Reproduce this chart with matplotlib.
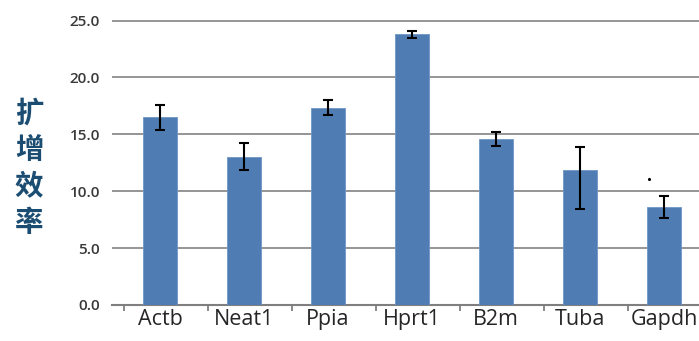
import numpy as np
import matplotlib
matplotlib.use("Agg")
import matplotlib.pyplot as plt

plt.rcParams['font.family'] = ['Open Sans', 'Noto Sans CJK SC', 'DejaVu Sans']

genes = ["Actb", "Neat1", "Ppia", "Hprt1", "B2m", "Tuba", "Gapdh"]
efficiency = [16.5, 13.0, 17.3, 23.8, 14.6, 11.9, 8.6]
err_upper = [1.1, 1.2, 0.7, 0.3, 0.6, 2.0, 1.0]
err_lower = [1.1, 1.1, 0.6, 0.3, 0.6, 3.45, 0.95]
y_ticks = [0, 5, 10, 15, 20, 25]

# stray point drawn near the Gapdh bar
dot_x = [5.82]
dot_y = [11.1]

bar_color = "#4f7db3"
grid_color = "#8c8c8c"
label_color = "#1b4d72"

fig = plt.figure(figsize=(6.99, 3.41), dpi=100)
ax = fig.add_axes((112 / 699, 36 / 341, 587 / 699, 285 / 341))

x = np.arange(len(genes))
ax.bar(x, efficiency, width=0.4, color=bar_color, edgecolor="#6f96c4",
       linewidth=0.6, zorder=3)
ax.errorbar(x, efficiency, yerr=[err_lower, err_upper], fmt="none",
            ecolor="black", elinewidth=1.5, capsize=3.6, capthick=1.5,
            zorder=4)
ax.scatter(dot_x, dot_y, s=1.5, color="black", zorder=4)

ax.set_xlim(-0.571, 6.417)
ax.set_ylim(0, 25.05)
ax.set_yticks(y_ticks)
ax.set_yticklabels([f"{v:.1f}" for v in y_ticks])
ax.yaxis.grid(True, color=grid_color, linewidth=1.3, zorder=0)
ax.set_axisbelow(True)

for side in ["top", "right", "left"]:
    ax.spines[side].set_visible(False)
ax.spines["bottom"].set_color("#7f7f7f")
ax.spines["bottom"].set_linewidth(1.5)

ax.set_xticks(x)
ax.set_xticklabels(genes, fontsize=15.5, color="#262626")
ax.set_xticks(np.arange(len(genes)) - 0.5 + 0.07, minor=True)
ax.tick_params(axis="x", which="major", length=0, pad=3)
ax.tick_params(axis="x", which="minor", length=4, width=1.3,
               color="#7f7f7f", direction="out")
ax.tick_params(axis="y", length=0, pad=8.5, labelsize=11,
               labelcolor="#3a3a3a")
for lbl in ax.get_yticklabels():
    lbl.set_fontweight("semibold")

fig.text(29 / 699, 173 / 341, "扩\n增\n效\n率", fontsize=20.5,
         color=label_color, ha="center", va="center", linespacing=1.38,
         fontweight="bold", family=["Noto Sans CJK SC", "DejaVu Sans"])

fig.savefig("out.png", dpi=100)
